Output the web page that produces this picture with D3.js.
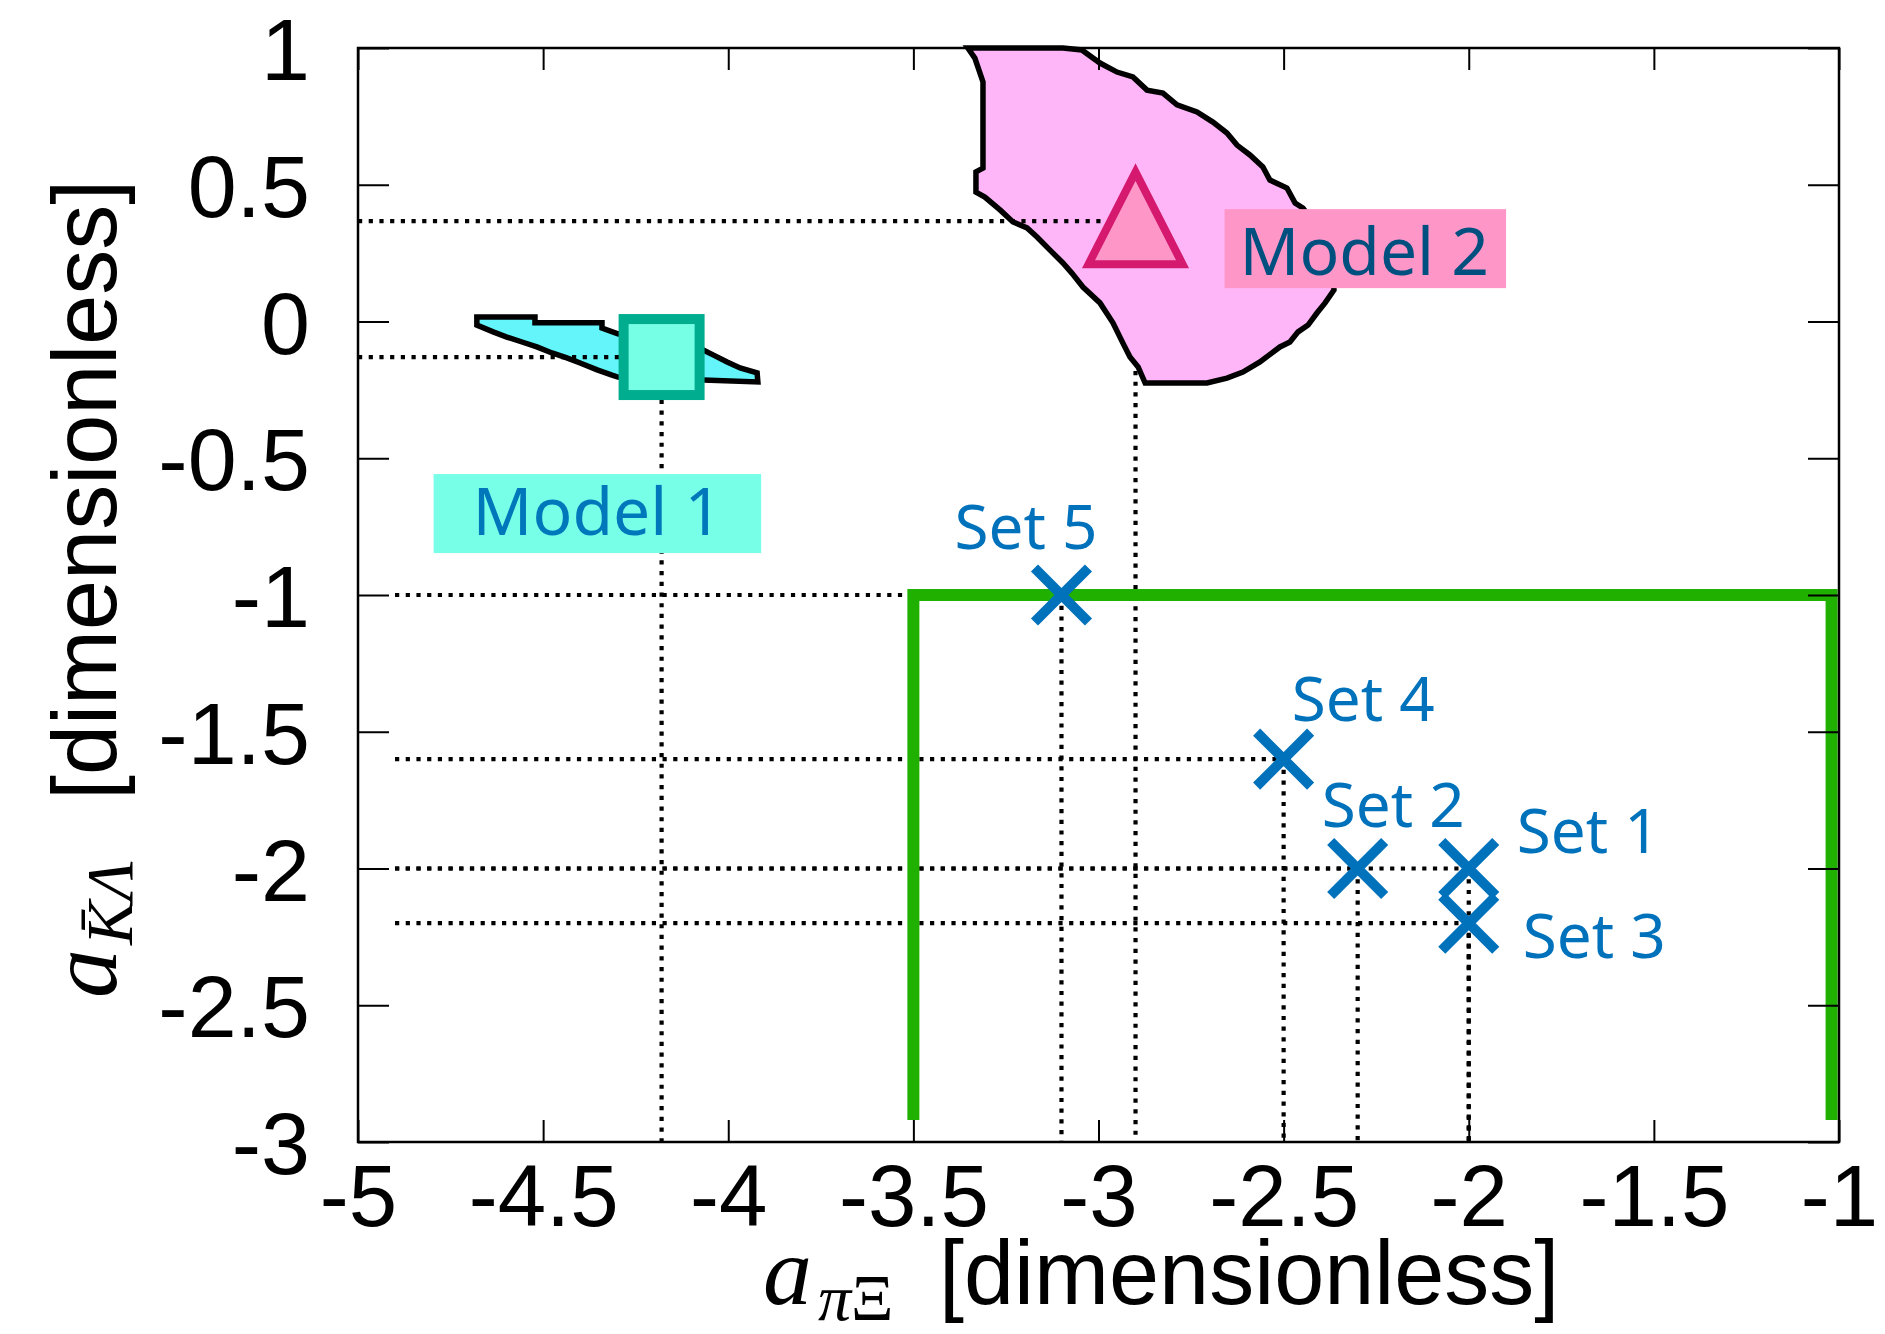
<!DOCTYPE html>
<html><head><meta charset="utf-8">
<script src="https://cdn.jsdelivr.net/npm/d3@7"></script>
<style>body{margin:0;background:#fff}svg{display:block}</style>
</head><body>
<svg id="c" width="1885" height="1334"></svg>
<script>
// ---------- data ----------
const xTicks = [-5, -4.5, -4, -3.5, -3, -2.5, -2, -1.5, -1];
const yTicks = [1, 0.5, 0, -0.5, -1, -1.5, -2, -2.5, -3];
const setNames = ["Set 1", "Set 2", "Set 3", "Set 4", "Set 5"];
const setX = [-2.0, -2.3, -2.0, -2.5, -3.1];
const setY = [-2.0, -2.0, -2.2, -1.6, -1.0];
const modelNames = ["Model 1", "Model 2"];
const modelX = [-4.18, -2.9];
const modelY = [-0.13, 0.367];
const boundX = [-3.5, -3.5, -1.02, -1.02];
const boundY = [-2.92, -1.0, -1.0, -2.92];
const region1X = [-4.679, -4.522, -4.522, -4.341, -4.341, -4.298, -4.068, -4.041, -4.003, -3.968, -3.922, -3.920,
  -4.068, -4.298, -4.314, -4.354, -4.400, -4.436, -4.476, -4.517, -4.557, -4.598, -4.635, -4.679];
const region1Y = [0.016, 0.016, -0.005, -0.005, -0.024, -0.045, -0.104, -0.122, -0.148, -0.170, -0.188, -0.221,
  -0.214, -0.203, -0.196, -0.177, -0.152, -0.133, -0.115, -0.093, -0.075, -0.057, -0.038, -0.013];
const region2X = [-3.353, -3.334, -3.312, -3.312, -3.331, -3.331, -3.307, -3.266, -3.231, -3.193, -3.166, -3.131,
  -3.096, -3.072, -3.042, -2.996, -2.961, -2.934, -2.915, -2.893, -2.874, -2.707, -2.653, -2.610, -2.564, -2.510,
  -2.483, -2.461, -2.434, -2.410, -2.388, -2.364, -2.367, -2.402, -2.448, -2.469, -2.491, -2.537, -2.556, -2.591,
  -2.626, -2.653, -2.691, -2.734, -2.788, -2.826, -2.869, -2.907, -2.950, -2.996, -3.045, -3.096];
const region2Y = [1.0, 0.963, 0.876, 0.561, 0.547, 0.473, 0.455, 0.408, 0.364, 0.342, 0.309, 0.261,
  0.214, 0.177, 0.126, 0.068, -0.005, -0.079, -0.130, -0.166, -0.225, -0.225, -0.207, -0.185, -0.148, -0.093,
  -0.075, -0.038, -0.013, 0.031, 0.068, 0.115, 0.225, 0.335, 0.415, 0.433, 0.488, 0.517, 0.565, 0.609,
  0.645, 0.689, 0.729, 0.766, 0.792, 0.835, 0.846, 0.894, 0.912, 0.945, 0.993, 1.0];

// ---------- layout ----------
const L = 358, R = 1839, T = 48, B = 1142;
const x = d3.scaleLinear().domain([-5, -1]).range([L, R]);
const y = d3.scaleLinear().domain([-3, 1]).range([B, T]);
const svg = d3.select("#c");
const sans = "'Liberation Sans', Arial, Helvetica, sans-serif";
const labFont = "'Noto Sans', 'Open Sans', sans-serif";
const serif = "'Liberation Serif', 'Times New Roman', serif";
const fmt = d => String(d);

const dot = {stroke: "#000", "stroke-width": 4.2, "stroke-dasharray": "4.2 6.5", fill: "none"};
function applyAttrs(sel, a) { for (const k in a) sel.attr(k, a[k]); return sel; }

// vertical dotted guide lines (drawn under regions)
const allPX = setX.concat(modelX), allPY = setY.concat(modelY);
allPX.forEach((px, i) => {
  applyAttrs(svg.append("line").attr("x1", x(px)).attr("x2", x(px))
    .attr("y1", y(allPY[i])).attr("y2", B), dot);
});

// regions
const line = d3.line().x(d => x(d[0])).y(d => y(d[1]));
svg.append("path").datum(region1X.map((v, i) => [v, region1Y[i]]))
  .attr("d", d => line(d) + "Z").attr("fill", "#63F5FA").attr("stroke", "#000")
  .attr("stroke-width", 5.5).attr("stroke-linejoin", "miter");
svg.append("path").datum(region2X.map((v, i) => [v, region2Y[i]]))
  .attr("d", d => line(d) + "Z").attr("fill", "#FFB6F8").attr("stroke", "#000")
  .attr("stroke-width", 5.5).attr("stroke-linejoin", "miter");

// horizontal dotted guide lines
setX.forEach((px, i) => {
  applyAttrs(svg.append("line").attr("x1", x(-4.9)).attr("x2", x(px))
    .attr("y1", y(setY[i])).attr("y2", y(setY[i])), dot);
});
modelX.forEach((px, i) => {
  applyAttrs(svg.append("line").attr("x1", x(-5)).attr("x2", x(px))
    .attr("y1", y(modelY[i])).attr("y2", y(modelY[i])), dot);
});

// green boundary
svg.append("path").datum(boundX.map((v, i) => [v, boundY[i]]))
  .attr("d", line).attr("fill", "none").attr("stroke", "#1FB000")
  .attr("stroke-width", 12).attr("stroke-linejoin", "miter").attr("stroke-linecap", "butt");

// frame + ticks
svg.append("rect").attr("x", L).attr("y", T).attr("width", R - L).attr("height", B - T)
  .attr("fill", "none").attr("stroke", "#000").attr("stroke-width", 2.5);
const gx = svg.append("g").attr("transform", `translate(0,${B})`)
  .call(d3.axisBottom(x).tickValues(xTicks).tickSize(-22).tickFormat(fmt).tickPadding(0));
const gxt = svg.append("g").attr("transform", `translate(0,${T})`)
  .call(d3.axisTop(x).tickValues(xTicks).tickSize(-22).tickFormat(""));
const gy = svg.append("g").attr("transform", `translate(${L},0)`)
  .call(d3.axisLeft(y).tickValues(yTicks).tickSize(-31).tickFormat(fmt).tickPadding(0));
const gyr = svg.append("g").attr("transform", `translate(${R},0)`)
  .call(d3.axisRight(y).tickValues(yTicks).tickSize(-31).tickFormat(""));
[gx, gxt, gy, gyr].forEach(g => {
  g.select(".domain").remove();
  g.selectAll(".tick line").attr("stroke", "#000").attr("stroke-width", 2);
});
gxt.selectAll(".tick text").remove();
gyr.selectAll(".tick text").remove();
gx.selectAll(".tick text").attr("y", 84).attr("dy", null)
  .style("font-family", sans).style("font-size", "87px").attr("fill", "#000");
gy.selectAll(".tick text").attr("x", -48).attr("dy", "0.36em")
  .style("font-family", sans).style("font-size", "88px").attr("fill", "#000");

// axis titles
function title(g, sub, subX, bracketX) {
  g.append("text").attr("x", 0).attr("y", 0).style("font-family", serif)
    .style("font-style", "italic").style("font-size", "98px").text("a");
  const s = g.append("text").attr("x", subX).attr("y", 16).style("font-family", serif).style("font-size", "66px");
  sub.forEach(p => s.append("tspan").style("font-style", p[1] ? "italic" : "normal").text(p[0]));
  g.append("text").attr("x", bracketX).attr("y", 0).style("font-family", sans)
    .style("font-size", "90px").text("[dimensionless]");
}
title(svg.append("g").attr("transform", "translate(763,1304)"), [["\u03C0", true], ["\u039E", false]], 55, 176);
title(svg.append("g").attr("transform", "translate(116,998) rotate(-90)"), [["K\u0304", true], ["\u039B", true]], 53, 198);

// model markers
const mg = svg.append("g");
mg.append("rect").attr("x", x(modelX[0]) - 38).attr("y", y(modelY[0]) - 38)
  .attr("width", 76).attr("height", 76).attr("fill", "#77FFE6").attr("stroke", "#00AD8E").attr("stroke-width", 10);
const tx = x(modelX[1]), ty = y(modelY[1]);
mg.append("path").attr("d", `M${tx},${ty - 49}L${tx + 47},${ty + 43}L${tx - 47},${ty + 43}Z`)
  .attr("fill", "#FF96C8").attr("stroke", "#D4196F").attr("stroke-width", 8).attr("stroke-linejoin", "miter");

// model labels
const modelLab = [{dx: -189, dy: 178, bg: "#77FFE8", col: "#0077BB", padL: 39, padR: 39, up: 61, down: 18},
                  {dx: 104, dy: 54, bg: "#FF96C8", col: "#00507F", padL: 15, padR: 17, up: 66, down: 13}];
modelNames.forEach((n, i) => {
  const st = modelLab[i];
  const g = svg.append("g");
  const bx = x(modelX[i]) + st.dx, by = y(modelY[i]) + st.dy;
  const rect = g.append("rect").attr("fill", st.bg);
  const t = g.append("text").attr("x", bx).attr("y", by).style("font-family", labFont)
    .style("font-size", "66px").attr("fill", st.col).text(n);
  const w = t.node().getComputedTextLength();
  rect.attr("x", bx - st.padL).attr("y", by - st.up).attr("width", w + st.padL + st.padR).attr("height", st.up + st.down);
});

// set markers
const xs = 27;
setX.forEach((px, i) => {
  const cx = x(px), cy = y(setY[i]);
  svg.append("path").attr("d", `M${cx - xs},${cy - xs}L${cx + xs},${cy + xs}M${cx - xs},${cy + xs}L${cx + xs},${cy - xs}`)
    .attr("stroke", "#0072BC").attr("stroke-width", 10).attr("fill", "none");
});
const setLab = [[48, -16], [-36, -42], [54, 35], [8, -38], [-107, -46]];
setNames.forEach((n, i) => {
  svg.append("text").attr("x", x(setX[i]) + setLab[i][0]).attr("y", y(setY[i]) + setLab[i][1])
    .style("font-family", labFont).style("font-size", "62px").attr("fill", "#0072BC").text(n);
});
</script>
</body></html>
